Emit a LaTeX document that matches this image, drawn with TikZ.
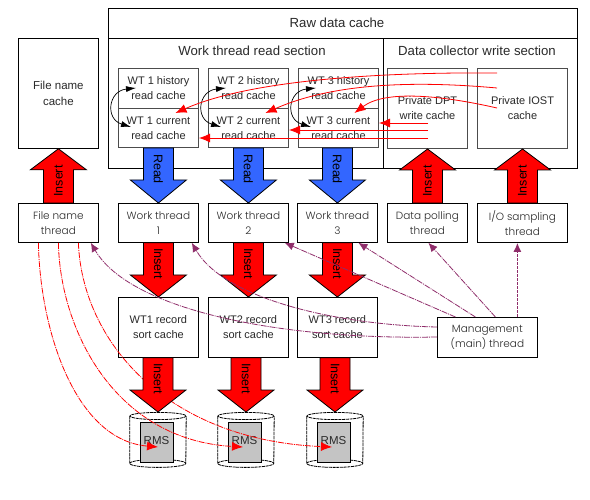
\documentclass[tikz,border=0pt]{standalone}
\usepackage{fontspec}
\setmainfont{Liberation Sans}
\newfontfamily\geofont{Poppins Light}
\usetikzlibrary{arrows.meta,calc}
\definecolor{plum}{HTML}{8F2D6A}
\definecolor{tred}{HTML}{FF0000}
\definecolor{tblue}{HTML}{3366FF}
\definecolor{rmsgrey}{HTML}{C4C4C4}
\definecolor{txt}{HTML}{2A2A2A}
\tikzset{
  x=1pt,y=-1pt,
  every node/.style={inner sep=0pt,text=txt,font=\fontsize{11}{15}\selectfont,align=center},
  bx/.style={draw=black,line width=.8pt,fill=white,anchor=north west},
  cachebx/.style={draw=black!70,line width=1pt,fill=white,anchor=north west},
  geo/.style={font=\geofont\fontsize{10.5}{15.5}\selectfont},
  section/.style={font=\fontsize{13.2}{15}\selectfont},
  filebx/.style={font=\fontsize{11.5}{16}\selectfont},
  redline/.style={draw=tred,line width=.8pt,-{Latex[length=11pt,width=9pt]}},
  reddash/.style={draw=tred,line width=.8pt,dash pattern=on 6pt off 1pt on 1pt off 1pt,-{Latex[length=11pt,width=9pt]}},
  plumdash/.style={draw=plum,line width=.8pt,dash pattern=on 6pt off 1pt on 1pt off 1pt,-{Latex[length=9pt,width=8pt]}},
  plumthick/.style={draw=plum,line width=1.3pt,dash pattern=on 3pt off 1pt,-{Latex[length=9pt,width=8pt]}},
  blackcurve/.style={draw=black,line width=.7pt,{Latex[length=10pt,width=6pt]}-{Latex[length=10pt,width=6pt]}},
  block/.style={draw=black,line width=.8pt},
  blocktxt/.style={text=black,font=\fontsize{12.5}{14}\selectfont},
  cyl/.style={draw=black,line width=.8pt,dash pattern=on 3pt off .7pt},
}
% block arrow from #1 to #2; #3 fill; #4 rotation of text; #5 text; #6 +1 down, -1 up; #7 head length; #8 text offset along the arrow
\newcommand{\blockarrow}[8]{%
  \coordinate (ba) at (#1 -| #2);
  \draw[block,fill=#3]
    ($(ba)+(-15,0)$) -- ($(#2)+(-15,-#6*#7)$) -- ($(#2)+(-28,-#6*#7)$) -- (#2)
    -- ($(#2)+(28,-#6*#7)$) -- ($(#2)+(15,-#6*#7)$) -- ($(ba)+(15,0)$) -- cycle;
  \node[blocktxt,rotate=#4] at ($(ba)+(0,#6*#8)$) {#5};
}
\begin{document}
\begin{tikzpicture}
\useasboundingbox[fill=white] (0,0) rectangle (590,500);

% raw data cache
\node[bx,minimum width=469pt,minimum height=30pt] (raw) at (108,8) {};
\node[bx,minimum width=275pt,minimum height=130pt] (wsec) at (108,38) {};
\node[bx,minimum width=194pt,minimum height=130pt] (dsec) at (383,38) {};
\node[section] at (337,23) {Raw data cache};
\node[section] at (252,51) {Work thread read section};
\node[section] at (477,51) {Data collector write section};

% read caches
\foreach \n/\x in {1/118,2/208,3/298}{
  \node[cachebx,minimum width=80pt,minimum height=40pt] (h\n) at (\x,68) {WT \n\ history\\read cache};
  \node[cachebx,minimum width=80pt,minimum height=39pt] (c\n) at (\x,108) {WT \n\ current\\read cache};
}
\node[cachebx,minimum width=80pt,minimum height=80pt] (dpt) at (387,68) {Private DPT\\write cache};
\node[cachebx,minimum width=90pt,minimum height=80pt] (iost) at (477,68) {Private IOST\\cache};

% threads
\node[bx,filebx,minimum width=80pt,minimum height=110pt] (fcache) at (18,38) {File name\\cache};
\node[bx,geo,minimum width=80pt,minimum height=39pt] (fthr) at (18,203) {File name\\thread};
\foreach \n/\x in {1/118,2/208,3/297}{
  \node[bx,geo,minimum width=80pt,minimum height=39pt] (w\n) at (\x,203) {Work thread\\\n};
  \node[bx,minimum width=80pt,minimum height=60pt] (s\n) at (\x,297) {WT\n\ record\\sort cache};
}
\node[bx,geo,minimum width=80pt,minimum height=39pt] (dthr) at (387,203) {Data polling\\thread};
\node[bx,geo,minimum width=90pt,minimum height=39pt] (ithr) at (477,203) {I/O sampling\\thread};
\node[bx,geo,minimum width=100pt,minimum height=40pt] (mgmt) at (437,317) {Management\\(main) thread};

% RMS cylinders
\foreach \n/\x in {1/158,2/246,3/335}{
  \node[minimum width=56pt,minimum height=55pt,anchor=north] (cyl\n) at (\x,412) {};
  \draw[cyl,fill=white] ($(cyl\n.north west)+(0,4)$) -- ($(cyl\n.south west)+(0,-4)$)
     arc[start angle=180,end angle=360,x radius=28,y radius=-4]
     -- ($(cyl\n.north east)+(0,4)$);
  \draw[cyl,fill=white] ($(cyl\n.north)+(0,4)$) ellipse[x radius=28,y radius=3.6];
  \draw[cyl] ($(cyl\n.south west)+(0,-4)$) arc[start angle=180,end angle=0,x radius=28,y radius=-4];
  \node[draw=black,line width=.8pt,fill=rmsgrey,minimum width=33pt,minimum height=40pt] (rms\n) at (\x-1.5,442) {\raisebox{2.5pt}{\fontsize{11.5}{14}\selectfont RMS}};
}

% dash-dotted red connectors
\coordinate (t1) at (158,447);
\coordinate (t2) at (243,447);
\coordinate (t3) at (332,447);
\draw[reddash] ($(fthr.south)+(-20,0)$) .. controls (40,330) and (75,440) .. (t1);
\draw[reddash] (fthr.south) .. controls (60,330) and (115,440) .. (t2);
\draw[reddash] ($(fthr.south)+(20,0)$) .. controls (82,340) and (165,440) .. (t3);

% block arrows
\blockarrow{fthr.north}{fcache.south}{tred}{90}{Insert}{-1}{21}{22}
\blockarrow{dthr.north}{dpt.south}{tred}{90}{Insert}{-1}{21}{22}
\blockarrow{ithr.north}{iost.south}{tred}{90}{Insert}{-1}{21}{22}
\foreach \n in {1,2,3}{
  \blockarrow{c\n.south}{w\n.north}{tblue}{-90}{Read}{1}{23}{21}
  \blockarrow{w\n.south}{s\n.north}{tred}{-90}{Insert}{1}{22}{21}
  \blockarrow{s\n.south}{cyl\n.north}{tred}{-90}{Insert}{1}{22}{21}
}

% black double curves between history and current caches
\foreach \n in {1,2,3}{
  \coordinate (u\n) at ($(h\n.south west)+(18,-21)$);
  \coordinate (v\n) at ($(c\n.north west)+(13,19)$);
  \draw[blackcurve] (u\n) .. controls ($(u\n)+(-28,3)$) and ($(v\n)+(-26,-8)$) .. (v\n);
}

% red connectors in the raw data cache
\coordinate (r1) at (497,73);
\coordinate (r2) at (497,88);
\coordinate (r3) at (497,108);
\coordinate (r4) at (428,123);
\coordinate (r5) at (428,130);
\coordinate (r6) at (428,138);
\draw[redline] (r1) .. controls (380,72) and (250,80) .. ($(c1.north)+(17,5)$);
\draw[redline] (r2) .. controls (430,82) and (340,80) .. ($(c2.north)+(17,5)$);
\draw[redline] (r3) .. controls (440,95) and (385,90) .. ($(c3.north)+(16,5)$);
\draw[redline] (r4) -- (r4 -| c3.east);
\draw[redline] (r5) -- (r5 -| c2.east);
\draw[redline] (r6) -- (r6 -| c1.east);

% plum connectors from the management thread
\draw[plumthick] ($(mgmt.north)+(30,0)$) -- ($(ithr.south)+(-5,0)$);
\draw[plumdash] ($(mgmt.north)+(8,0)$) -- ($(dthr.south)+(1,0)$);
\draw[plumdash] ($(mgmt.north)+(-12,0)$) -- ($(w3.south)+(21,0)$);
\draw[plumdash] ($(mgmt.north)+(-32,0)$) -- ($(w2.south east)+(-4,0)$);
\draw[plumdash] ($(mgmt.north west)+(0,10)$) .. controls (340,325) and (225,300) .. ($(w1.south east)+(-7,0)$);
\draw[plumdash] ($(mgmt.north west)+(0,20)$) .. controls (280,340) and (130,310) .. ($(fthr.south east)+(-8,0)$);
\end{tikzpicture}
\end{document}
